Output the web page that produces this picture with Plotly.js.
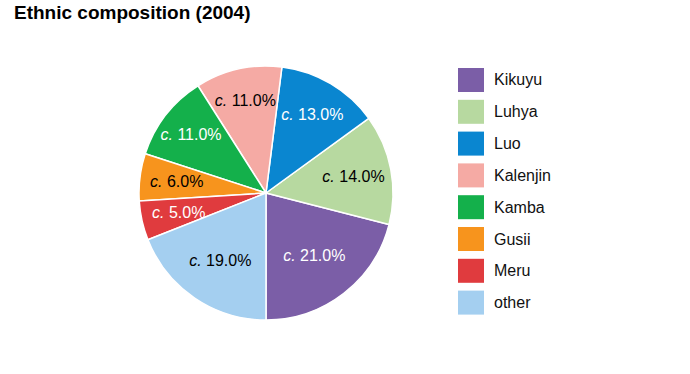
<!DOCTYPE html>
<html>
<head>
<meta charset="utf-8">
<script src="https://cdn.plot.ly/plotly-3.0.1.min.js"></script>
<style>html,body{margin:0;padding:0;background:#fff;}#chart{width:690px;height:374px;}</style>
</head>
<body>
<div id="chart"></div>
<script>
var categories = ["Kikuyu", "Luhya", "Luo", "Kalenjin", "Kamba", "Gusii", "Meru", "other"];
var shares = [21, 14, 13, 11, 11, 6, 5, 19];
var colors = ["#7b5ea7", "#b7d9a0", "#0a86d0", "#f5aaa4", "#14b04b", "#f7941d", "#e03b3e", "#a4cff0"];
var textColors = ["#ffffff", "#000000", "#ffffff", "#000000", "#ffffff", "#000000", "#ffffff", "#000000"];

var FONT = "Liberation Sans, Arial, Helvetica, sans-serif";
var W = 690, H = 374;
// pie placement (pixels)
var CX = 266, CY = 193, R = 127;

// first slice starts at 6 o'clock and the pie runs counterclockwise
var total = shares.reduce(function (a, b) { return a + b; }, 0);
var startRotation = 180 - shares[0] / total * 360;

function labelText(v) { return "<i>c.</i> " + v.toFixed(1) + "%"; }

// small slices get their label placed along the slice's mid-angle
var SMALL = 8;
var sliceText = [];
var annotations = [];
var cum = 0;
for (var k = 0; k < shares.length; k++) {
  var mid = 180 - (cum + shares[k] / 2) / total * 360;
  cum += shares[k];
  if (shares[k] < SMALL) {
    sliceText.push("");
    var rad = mid * Math.PI / 180, rr = 0.71 * R;
    annotations.push({
      xref: "paper", yref: "paper",
      x: (CX + rr * Math.sin(rad)) / W, y: 1 - (CY - rr * Math.cos(rad)) / H,
      xanchor: "center", yanchor: "middle", showarrow: false,
      text: labelText(shares[k]),
      font: {family: FONT, size: 16, color: textColors[k]}
    });
  } else {
    sliceText.push(labelText(shares[k]));
  }
}

var pie = {
  type: "pie",
  labels: categories,
  values: shares,
  text: sliceText,
  sort: false,
  direction: "counterclockwise",
  rotation: startRotation,
  marker: {colors: colors, line: {color: "#ffffff", width: 1.5}},
  textinfo: "text",
  textposition: "inside",
  insidetextorientation: "horizontal",
  textfont: {family: FONT, size: 16, color: textColors},
  hoverinfo: "label+percent",
  showlegend: false,
  domain: {x: [(CX - R) / W, (CX + R) / W], y: [(H - CY - R) / H, (H - CY + R) / H]}
};

var shapes = [];
var legTop = 68, legStep = 31.8;
for (var i = 0; i < categories.length; i++) {
  var y0 = legTop + i * legStep;
  shapes.push({
    type: "rect", xref: "paper", yref: "paper",
    x0: 458 / W, x1: 484 / W,
    y0: 1 - (y0 + 24) / H, y1: 1 - y0 / H,
    fillcolor: colors[i], line: {width: 0}
  });
  annotations.push({
    xref: "paper", yref: "paper",
    x: 492 / W, y: 1 - (y0 + 12) / H,
    xanchor: "left", yanchor: "middle",
    text: categories[i], showarrow: false,
    font: {family: FONT, size: 16, color: "#111111"}
  });
}

var layout = {
  width: W, height: H,
  margin: {l: 0, r: 0, t: 0, b: 0},
  paper_bgcolor: "#ffffff",
  title: {
    text: "<b>Ethnic composition (2004)</b>",
    x: 14 / W, xanchor: "left", xref: "paper",
    y: 1 - 12 / H, yanchor: "middle", yref: "container",
    font: {family: FONT, size: 19, color: "#000000"}
  },
  showlegend: false,
  shapes: shapes,
  annotations: annotations,
  uniformtext: {mode: "show", minsize: 16}
};

Plotly.newPlot("chart", [pie], layout, {displayModeBar: false, staticPlot: true});
</script>
</body>
</html>
